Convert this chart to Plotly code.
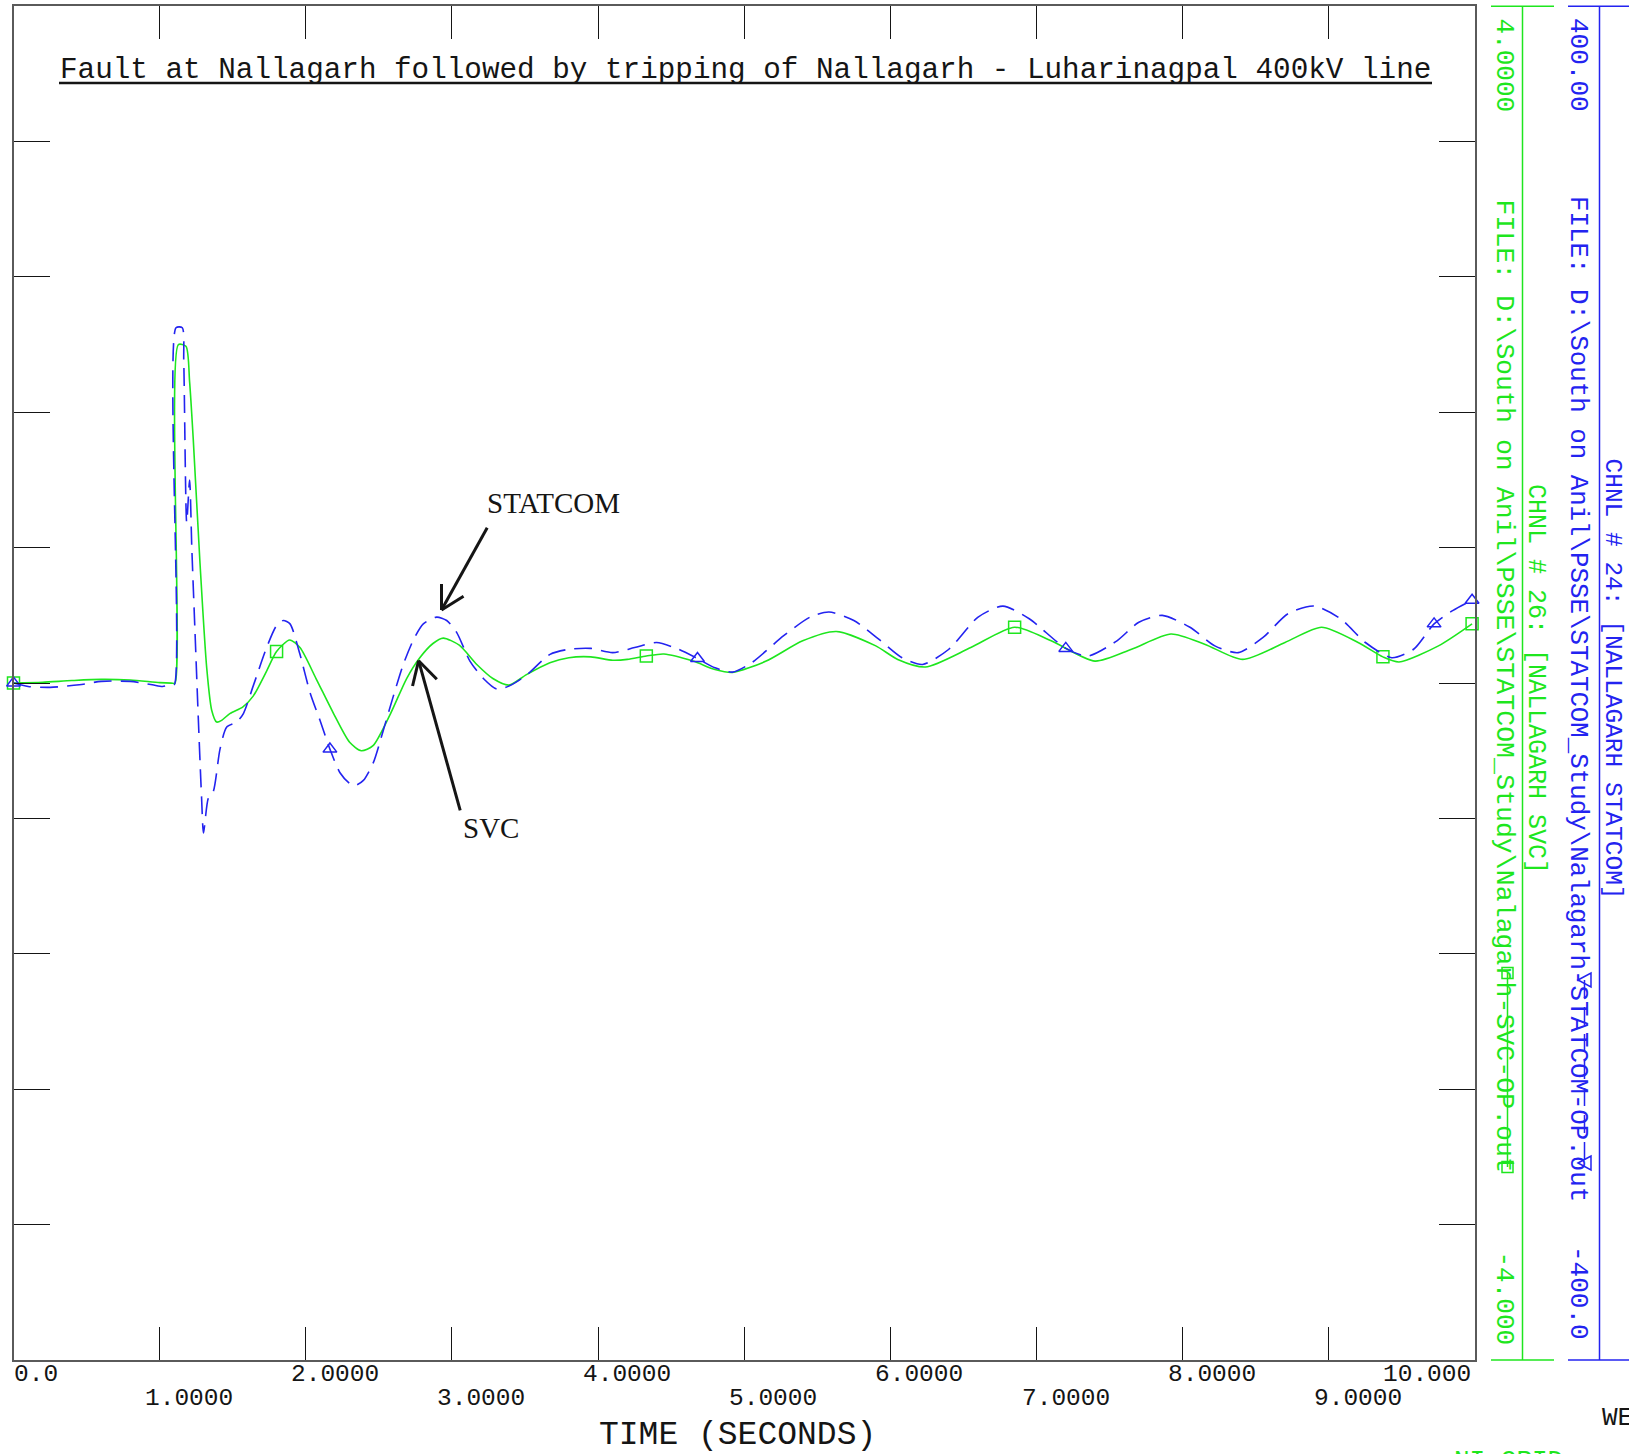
import math
import plotly.graph_objects as go

# ---------------------------------------------------------------------------
# Channel data (time in seconds)
# CHNL 26: NALLAGARH SVC output (scale +/-4.0)
svc_time = [0.0, 0.2, 0.4, 0.6, 0.8, 1.0, 1.08, 1.105, 1.128, 1.18, 1.205, 1.23,
            1.276, 1.322, 1.356, 1.39, 1.424, 1.48, 1.57, 1.64, 1.73, 1.80, 1.89,
            1.96, 2.07, 2.19, 2.30, 2.38, 2.46, 2.58, 2.69, 2.78, 2.87, 2.94, 3.05,
            3.17, 3.28, 3.39, 3.51, 3.67, 3.80, 3.95, 4.10, 4.20, 4.33, 4.45, 4.65,
            4.80, 4.92, 5.15, 5.40, 5.63, 5.90, 6.05, 6.24, 6.55, 6.85, 7.10, 7.40,
            7.65, 7.92, 8.15, 8.41, 8.70, 8.95, 9.20, 9.37, 9.48, 9.75, 9.98]
svc_q = [0.0, 0.005, 0.015, 0.022, 0.018, 0.003, 0.0, 0.0, 2.0, 1.99, 1.78, 1.44,
         0.71, 0.09, -0.16, -0.23, -0.22, -0.18, -0.14, -0.077, 0.068, 0.187, 0.255,
         0.21, 0.027, -0.18, -0.35, -0.40, -0.37, -0.18, 0.027, 0.15, 0.234, 0.266,
         0.224, 0.11, 0.027, -0.012, 0.05, 0.12, 0.15, 0.155, 0.135, 0.14, 0.16,
         0.172, 0.13, 0.08, 0.063, 0.13, 0.25, 0.305, 0.22, 0.14, 0.095, 0.21, 0.33,
         0.25, 0.13, 0.2, 0.29, 0.23, 0.14, 0.24, 0.33, 0.24, 0.155, 0.125, 0.22, 0.35]

# CHNL 24: NALLAGARH STATCOM output (scale +/-400.0)
statcom_time = [0.0, 0.1, 0.25, 0.45, 0.6, 0.8, 0.95, 1.02, 1.07, 1.10, 1.112, 1.155,
                1.165, 1.185, 1.205, 1.22, 1.242, 1.265, 1.287, 1.30, 1.333, 1.367,
                1.413, 1.459, 1.527, 1.573, 1.641, 1.732, 1.80, 1.846, 1.892, 1.96,
                2.029, 2.097, 2.165, 2.234, 2.302, 2.336, 2.394, 2.462, 2.53, 2.599,
                2.667, 2.736, 2.804, 2.895, 2.964, 3.032, 3.123, 3.215, 3.306, 3.397,
                3.511, 3.671, 3.80, 3.95, 4.10, 4.25, 4.40, 4.55, 4.68, 4.80, 4.92,
                5.05, 5.27, 5.45, 5.58, 5.75, 5.92, 6.08, 6.22, 6.40, 6.60, 6.77, 6.95,
                7.20, 7.35, 7.55, 7.70, 7.86, 8.05, 8.22, 8.38, 8.55, 8.72, 8.90, 9.08,
                9.25, 9.43, 9.58, 9.72, 9.85, 9.98]
statcom_q = [0, -2, -2.5, -1, 1, 1, -1, -2, -1, -1, 210, 210, 190, 95, 120, 80, 30,
             -22, -68, -88.6, -68, -64, -39, -26, -23, -18, -1.5, 21, 34, 37, 35, 17,
             -5.6, -22, -39, -53, -59.5, -60.6, -57.5, -47, -28, -7.7, 11, 25.5, 35,
             39, 37, 30, 13, 2.7, -3.5, -1.5, 4.8, 17, 20, 20.5, 18, 21, 24, 20, 14.5,
             9, 6.5, 12, 28, 39, 42, 37, 26, 15, 11, 20, 39, 45.5, 38, 20.5, 16, 25,
             36, 40, 33, 22, 18, 27, 41, 45.5, 38, 24, 15, 20, 35, 43, 49]

# sample times carrying channel symbols
svc_marker_times = [0.0, 1.80, 4.33, 6.85, 9.37, 9.98]
statcom_marker_times = [0.0, 2.165, 4.68, 7.20, 9.72, 9.98]

x_ticks = [0, 1, 2, 3, 4, 5, 6, 7, 8, 9, 10]
x_tick_labels = ["0.0", "1.0000", "2.0000", "3.0000", "4.0000", "5.0000",
                 "6.0000", "7.0000", "8.0000", "9.0000", "10.000"]

title_text = "Fault at Nallagarh followed by tripping of Nallagarh - Luharinagpal 400kV line"
svc_file = r"FILE: D:\South on Anil\PSSE\STATCOM_Study\Nalagarh-SVC-OP.out"
statcom_file = r"FILE: D:\South on Anil\PSSE\STATCOM_Study\Nalagarh-STATCOM-OP.out"
svc_chnl = "CHNL # 26: [NALLAGARH SVC]"
statcom_chnl = "CHNL # 24: [NALLAGARH STATCOM]"
svc_scale = ("4.0000", "-4.000")
statcom_scale = ("400.00", "-400.0")

# ---------------------------------------------------------------------------
W, H = 1629, 1454
L, R, T, B = 13.5, 1475.0, 6.2, 1360.0   # plot frame in pixels

GREEN = "#1ee61e"
BLUE = "#2323f0"
INK = "#151515"
STROKE_FONT = "Liberation Mono"


def fx(x):
    return x / W


def fy(y):
    return 1 - y / H


fig = go.Figure()

fig.add_trace(go.Scatter(
    x=svc_time, y=svc_q, mode="lines", hoverinfo="skip",
    line=dict(color=GREEN, width=1.6, shape="spline", smoothing=0.7)))
fig.add_trace(go.Scatter(
    x=statcom_time, y=statcom_q, yaxis="y2", mode="lines", hoverinfo="skip",
    line=dict(color=BLUE, width=1.6, dash="18px,9px", shape="spline", smoothing=0.7)))

svc_pick = [svc_time.index(t) for t in svc_marker_times]
fig.add_trace(go.Scatter(
    x=[svc_time[i] for i in svc_pick], y=[svc_q[i] for i in svc_pick],
    mode="markers", cliponaxis=False, hoverinfo="skip",
    marker=dict(symbol="square-open", size=12, color=GREEN,
                line=dict(width=1.5, color=GREEN))))
statcom_pick = [statcom_time.index(t) for t in statcom_marker_times]
fig.add_trace(go.Scatter(
    x=[statcom_time[i] for i in statcom_pick], y=[statcom_q[i] for i in statcom_pick],
    yaxis="y2", mode="markers", cliponaxis=False, hoverinfo="skip",
    marker=dict(symbol="triangle-up-open", size=12, color=BLUE,
                line=dict(width=1.5, color=BLUE))))

axis_common = dict(showgrid=False, zeroline=False, showticklabels=False,
                   ticks="inside", mirror="ticks", showline=True,
                   linecolor="#5a5a5a", linewidth=2, tickcolor=INK, tickwidth=1.2)

shapes = []
annotations = []


def seg(x0, y0, x1, y1, color=INK, width=1.5, dash=None):
    line = dict(color=color, width=width)
    if dash:
        line["dash"] = dash
    shapes.append(dict(type="line", xref="paper", yref="paper",
                       x0=fx(x0), y0=fy(y0), x1=fx(x1), y1=fy(y1), line=line))


def arrow(head, tail, length=26, spread=29, width=3):
    hx, hy = head
    tx, ty = tail
    seg(tx, ty, hx, hy, width=width)
    ang = math.atan2(ty - hy, tx - hx)
    for s in (1, -1):
        a = ang + s * math.radians(spread)
        seg(hx, hy, hx + length * math.cos(a), hy + length * math.sin(a), width=width)


def text(x, y, s, size, color=INK, family=STROKE_FONT, xanchor="center",
         yanchor="middle", angle=0):
    annotations.append(dict(x=fx(x), y=fy(y), xref="paper", yref="paper", text=s,
                            showarrow=False, xanchor=xanchor, yanchor=yanchor,
                            textangle=angle,
                            font=dict(family=family, size=size, color=color)))


# title with underline
text(745, 70.6, title_text, 29.3, family="Liberation Mono")
seg(59, 83, 1432, 83, width=2.5)

# time axis labels, staggered on two rows
for t, lab in zip(x_ticks, x_tick_labels):
    row_y = 1374.5 if t % 2 == 0 else 1398
    if t == x_ticks[0]:
        anchor, shift = "left", -2
    elif t == x_ticks[-1]:
        anchor, shift = "right", -2
    else:
        anchor, shift = "left", -17
    annotations.append(dict(x=t, xref="x", y=fy(row_y), yref="paper", text=lab,
                            showarrow=False, xanchor=anchor, yanchor="middle",
                            xshift=shift,
                            font=dict(family=STROKE_FONT, size=24.5, color=INK)))
text(737.6, 1435, "TIME (SECONDS)", 33)

# channel scale bars at the right
for xv, x0, x1, color in ((1522.5, 1491, 1554, GREEN), (1599.5, 1568, 1629, BLUE)):
    seg(xv, T, xv, B, color=color, width=1.5)
    seg(x0, T, x1, T, color=color, width=1.5)
    seg(x0, B, x1, B, color=color, width=1.5)

text(1503.5, 65, svc_scale[0], 26, GREEN, angle=90)
text(1503.5, 686, svc_file, 26.6, GREEN, angle=90)
text(1503.5, 1298, svc_scale[1], 26, GREEN, angle=90)
text(1536, 679, svc_chnl, 25, GREEN, angle=90)

text(1578, 65, statcom_scale[0], 26, BLUE, angle=90)
text(1578, 699, statcom_file, 25.8, BLUE, angle=90)
text(1578, 1293, statcom_scale[1], 26, BLUE, angle=90)
text(1612.5, 679, statcom_chnl, 24.5, BLUE, angle=90)

# channel symbol keys
seg(1507.5, 973, 1507.5, 1167, color=GREEN, width=1.5)
for cy in (973, 1167):
    shapes.append(dict(type="rect", xref="paper", yref="paper",
                       x0=fx(1502), x1=fx(1513), y0=fy(cy - 5.5), y1=fy(cy + 5.5),
                       line=dict(color=GREEN, width=1.5)))
seg(1584.5, 980, 1584.5, 1163, color=BLUE, width=1.5, dash="18px,9px")
for cy in (980, 1163):
    pts = [(1578, cy), (1591, cy - 7), (1591, cy + 7)]
    path = "M " + " L ".join(f"{fx(px):.5f},{fy(py):.5f}" for px, py in pts) + " Z"
    shapes.append(dict(type="path", xref="paper", yref="paper", path=path,
                       line=dict(color=BLUE, width=1.5)))

# curve call-outs
text(553.7, 503, "STATCOM", 29, family="Liberation Serif")
arrow((441.5, 610), (487.2, 527.7))
text(491, 828, "SVC", 29, family="Liberation Serif")
arrow((418.6, 660.7), (460.2, 810.3))

# footer text running off the sheet
text(1600, 1418, "WE", 26, INK, xanchor="left")
text(1452, 1444, "NI GRID", 26, GREEN, xanchor="left", yanchor="top")

fig.update_layout(
    width=W, height=H, margin=dict(l=0, r=0, t=0, b=0),
    paper_bgcolor="white", plot_bgcolor="white", showlegend=False,
    xaxis=dict(domain=[fx(L), fx(R)], range=[0, 10], tick0=0, dtick=1,
               ticklen=33, **axis_common),
    yaxis=dict(domain=[fy(B), fy(T)], range=[-4, 4], tick0=-4, dtick=0.8,
               ticklen=36, **axis_common),
    yaxis2=dict(overlaying="y", range=[-400, 400], visible=False),
    shapes=shapes, annotations=annotations,
)

fig.write_html("out.html")
